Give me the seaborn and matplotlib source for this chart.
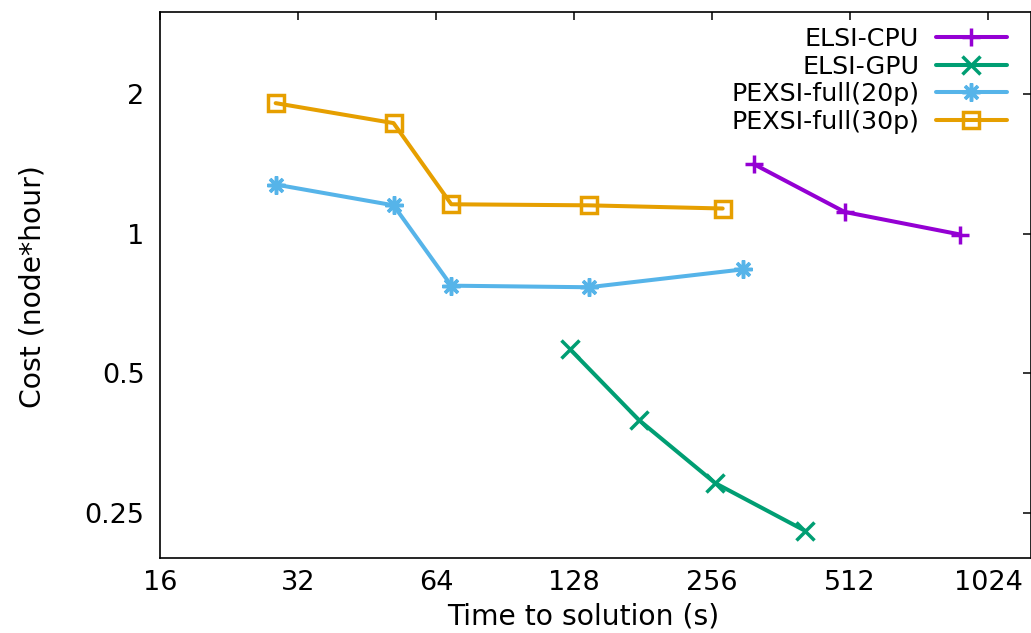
import matplotlib
matplotlib.use("Agg")
import matplotlib.pyplot as plt
import seaborn as sns
import pandas as pd

# ---- data ----
cpu_time = [316, 498, 890]
cpu_cost = [1.41, 1.113, 0.995]

gpu_time = [125.5, 177, 260, 408]
gpu_cost = [0.563, 0.397, 0.290, 0.229]

p20_time = [28.6, 51.7, 69.1, 137.8, 299]
p20_cost = [1.275, 1.150, 0.772, 0.766, 0.837]

p30_time = [28.6, 51.7, 69.1, 137.8, 270]
p30_cost = [1.909, 1.729, 1.156, 1.150, 1.132]

series_names = ["ELSI-CPU", "ELSI-GPU", "PEXSI-full(20p)", "PEXSI-full(30p)"]
x_ticks = [16, 32, 64, 128, 256, 512, 1024]
y_ticks = [0.25, 0.5, 1, 2]
y_tick_labels = ["0.25", "0.5", "1", "2"]

sns.set_theme(style="white")
plt.rcParams["font.family"] = ["DejaVu Sans"]
plt.rcParams["text.color"] = "black"
plt.rcParams["axes.labelcolor"] = "black"
plt.rcParams["xtick.color"] = "black"
plt.rcParams["ytick.color"] = "black"

FS_TICK = 19.5
FS_LABEL = 20.3
FS_LEG = 18.3

fig = plt.figure(figsize=(10.31, 6.33), dpi=100)
ax = fig.add_axes([160 / 1031, 75 / 633, 1 - 160 / 1031, 546 / 633])

styles = {
    "ELSI-CPU": dict(color="#9400D3", marker="+", markersize=13, mfc="#9400D3"),
    "ELSI-GPU": dict(color="#009E73", marker="x", markersize=13, mfc="#009E73"),
    "PEXSI-full(20p)": dict(color="#56B4E9", marker=(8, 2, 0), markersize=13, mfc="#56B4E9"),
    "PEXSI-full(30p)": dict(color="#E69F00", marker="s", markersize=12, mfc="none"),
}
data = {
    "ELSI-CPU": (cpu_time, cpu_cost),
    "ELSI-GPU": (gpu_time, gpu_cost),
    "PEXSI-full(20p)": (p20_time, p20_cost),
    "PEXSI-full(30p)": (p30_time, p30_cost),
}

for name in series_names:
    xs, ys = data[name]
    st = styles[name]
    df = pd.DataFrame({"t": xs, "c": ys})
    sns.lineplot(data=df, x="t", y="c", ax=ax, label=name, color=st["color"],
                 marker=st["marker"], markersize=st["markersize"],
                 markeredgecolor=st["color"], markerfacecolor=st["mfc"],
                 markeredgewidth=2.5, linewidth=2.9)

ax.set_xscale("log", base=2)
ax.set_yscale("log", base=2)
ax.set_xlim(16, 1270)
ax.set_ylim(0.2, 3.0)
ax.set_xticks(x_ticks)
ax.set_xticklabels([str(v) for v in x_ticks])
ax.set_yticks(y_ticks)
ax.set_yticklabels(y_tick_labels)
ax.minorticks_off()

ax.tick_params(axis="both", which="major", direction="in", length=6, width=1.1,
               top=True, right=True, labelsize=FS_TICK, pad=9, colors="black")
ax.tick_params(axis="y", pad=11)
for sp in ax.spines.values():
    sp.set_visible(True)
    sp.set_color("black")
    sp.set_linewidth(1.2)

ax.set_xlabel("Time to solution (s)", fontsize=FS_LABEL, color="black")
ax.set_ylabel("Cost (node*hour)", fontsize=FS_LABEL, color="black")
ax.xaxis.set_label_coords((583 - 160) / (1031 - 160), -(617 - 558) / 546)
ax.yaxis.set_label_coords(-(160 - 33) / (1031 - 160), (558 - 287) / 546)
ax.xaxis.label.set_va("center")
ax.yaxis.label.set_va("center")

leg = ax.legend(loc="upper right", bbox_to_anchor=(1007 / 1031, 1 - 27 / 633),
                bbox_transform=fig.transFigure, frameon=False, markerfirst=False,
                fontsize=FS_LEG, handlelength=2.8, handletextpad=0.65, labelspacing=0.14,
                borderpad=0, borderaxespad=0)
for t in leg.get_texts():
    t.set_color("black")

fig.savefig("out.png", dpi=100)
